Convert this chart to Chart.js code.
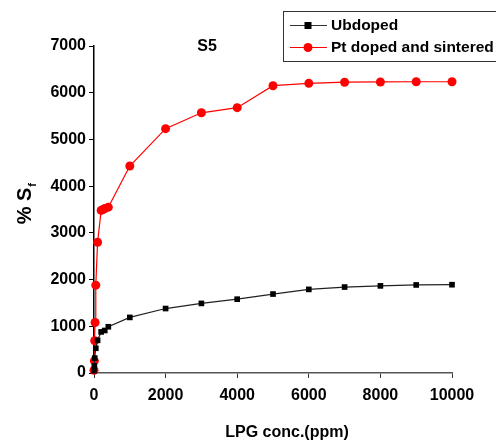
<!DOCTYPE html>
<html>
<head>
<meta charset="utf-8">
<script src="https://cdn.jsdelivr.net/npm/chart.js@4"></script>
<style>
  html, body { margin: 0; padding: 0; background: #fff; }
  #wrap { width: 496px; height: 441px; }
</style>
</head>
<body>
<div id="wrap"><canvas id="chart" width="496" height="441"></canvas></div>
<script>
const ubdopedX = [0, 10, 20, 50, 100, 200, 300, 400, 1000, 2000, 3000, 4000, 5000, 6000, 7000, 8000, 9000, 10000];
const ubdopedY = [50, 150, 320, 530, 700, 880, 910, 990, 1190, 1380, 1490, 1580, 1690, 1790, 1840, 1865, 1885, 1890];

const ptX = [0, 10, 20, 30, 50, 100, 200, 250, 300, 400, 1000, 2000, 3000, 4000, 5000, 6000, 7000, 8000, 9000, 10000];
const ptY = [60, 260, 690, 1080, 1880, 2800, 3480, 3500, 3520, 3550, 4430, 5230, 5570, 5680, 6150, 6200, 6225, 6230, 6235, 6235];

const seriesNames = ["Ubdoped", "Pt doped and sintered"];
const chartTitle = "S5";
const xTitle = "LPG conc.(ppm)";

const FONT = "Liberation Sans, Arial, sans-serif";

function toPoints(xs, ys) {
  return xs.map((x, i) => ({x: x, y: ys[i]}));
}

// legend box, inner title and axis titles
const extras = {
  id: "extras",
  afterDraw(chart) {
    const ctx = chart.ctx;
    ctx.save();

    // legend
    ctx.strokeStyle = "#333";
    ctx.lineWidth = 1;
    ctx.strokeRect(283.5, 11.5, 230, 50);
    const rows = [
      {y: 25, color: "#333", marker: "square", text: seriesNames[0]},
      {y: 47, color: "#ff0000", marker: "circle", text: seriesNames[1]}
    ];
    ctx.font = "bold 15.5px " + FONT;
    ctx.textBaseline = "middle";
    ctx.textAlign = "left";
    rows.forEach(r => {
      ctx.strokeStyle = r.color;
      ctx.beginPath();
      ctx.moveTo(290, r.y + 0.5);
      ctx.lineTo(327, r.y + 0.5);
      ctx.stroke();
      if (r.marker === "square") {
        ctx.fillStyle = "#000";
        ctx.fillRect(304.5, r.y - 3, 7, 7);
      } else {
        ctx.fillStyle = "#ff0000";
        ctx.beginPath();
        ctx.arc(308, r.y + 0.5, 4.5, 0, Math.PI * 2);
        ctx.fill();
      }
      ctx.fillStyle = "#000";
      ctx.fillText(r.text, 331, r.y + 1);
    });

    // S5 label
    ctx.font = "bold 16px " + FONT;
    ctx.textAlign = "center";
    ctx.fillText(chartTitle, 207, 47);

    // x axis title
    ctx.fillText(xTitle, 287, 433);

    // y axis title: % S with subscript f
    ctx.translate(25, 206);
    ctx.rotate(-Math.PI / 2);
    ctx.textAlign = "center";
    ctx.font = "bold 20px " + FONT;
    ctx.fillText("% S", 0, 0);
    const w = ctx.measureText("% S").width;
    ctx.font = "bold 11px " + FONT;
    ctx.textAlign = "left";
    ctx.fillText("f", w / 2 + 1, 8);

    ctx.restore();
  }
};

new Chart("chart", {
  type: "scatter",
  data: {
    datasets: [
      {
        label: seriesNames[0],
        data: toPoints(ubdopedX, ubdopedY),
        showLine: true,
        borderColor: "#222",
        borderWidth: 1.2,
        backgroundColor: "#000",
        pointStyle: "rect",
        pointRadius: 4,
        pointBorderWidth: 0,
        clip: false
      },
      {
        label: seriesNames[1],
        data: toPoints(ptX, ptY),
        showLine: true,
        borderColor: "#ff0000",
        borderWidth: 1.2,
        backgroundColor: "#ff0000",
        pointStyle: "circle",
        pointRadius: 4.5,
        pointBorderWidth: 0,
        clip: false
      }
    ]
  },
  options: {
    responsive: false,
    animation: false,
    layout: {padding: {left: 0, top: 46, right: 44, bottom: 0}},
    plugins: {legend: {display: false}, tooltip: {enabled: false}},
    scales: {
      x: {
        type: "linear",
        min: 0, max: 10000,
        ticks: {stepSize: 2000, color: "#000", font: {family: FONT, size: 16, weight: "bold"}, padding: 8, maxRotation: 0,
                callback: v => String(v)},
        grid: {drawOnChartArea: false, tickLength: 5, color: "#333"},
        border: {color: "#555", width: 1.5},
        afterFit: s => { s.height = 68; }
      },
      y: {
        min: 0, max: 7000,
        ticks: {stepSize: 1000, color: "#000", font: {family: FONT, size: 16, weight: "bold"}, padding: 3,
                callback: v => String(v)},
        grid: {drawOnChartArea: false, tickLength: 5, color: "#000"},
        border: {color: "#000", width: 1.5},
        afterFit: s => { s.width = 94; }
      }
    }
  },
  plugins: [extras]
});
</script>
</body>
</html>
